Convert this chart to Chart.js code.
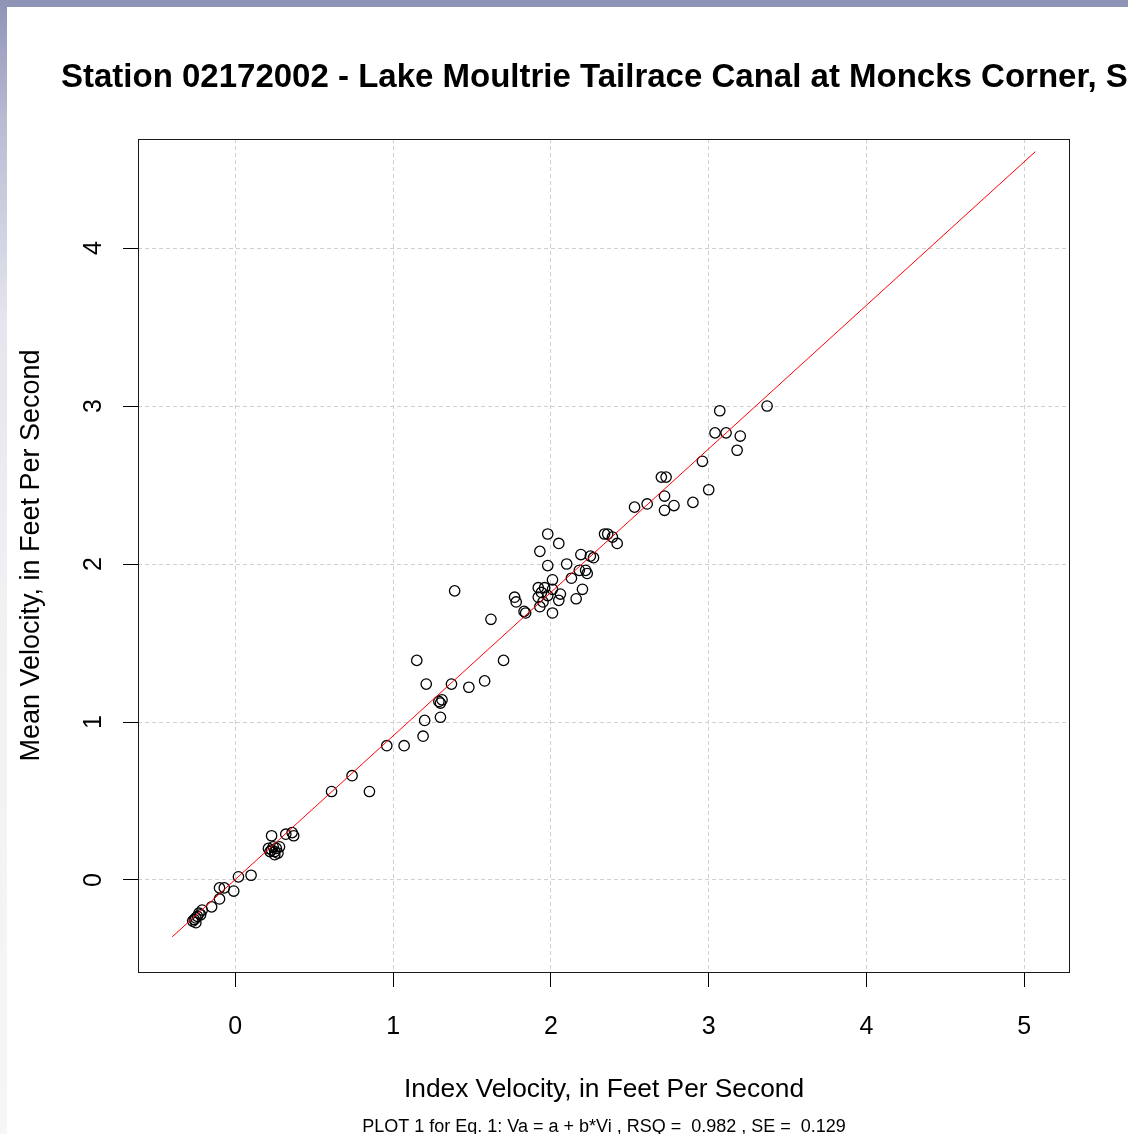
<!DOCTYPE html>
<html>
<head>
<meta charset="utf-8">
<script src="https://cdn.jsdelivr.net/npm/chart.js@4.4.1/dist/chart.umd.min.js"></script>
<style>
  html, body { margin: 0; padding: 0; background: #fff; }
  #wrap { position: relative; width: 1128px; height: 1134px; overflow: hidden; }
  #topbar { position: absolute; left: 0; top: 0; width: 1128px; height: 7px; background: #8f93b6; z-index: 2; }
  #leftbar { position: absolute; left: 0; top: 0; width: 7px; height: 1134px; z-index: 2;
    background: linear-gradient(to bottom, #8f93b6 0px, #b9bbd3 120px, #e4e5ee 320px, #f1f1f4 600px, #f6f6f7 100%); }
  canvas { position: absolute; left: 0; top: 0; }
</style>
</head>
<body>
<div id="wrap">
  <div id="topbar"></div>
  <div id="leftbar"></div>
  <canvas id="chart" width="1128" height="1134"></canvas>
</div>
<script>
// index velocity (x) and mean velocity (y), ft/s
const indexVel = [
  3.37, 3.07, 3.04, 3.11, 3.20, 3.18, 2.96, 3.00, 2.70, 2.73,
  2.72, 2.78, 2.72, 2.90, 2.53, 2.61, 2.34, 2.36, 2.39, 2.42,
  1.98, 2.05, 1.93, 1.98, 2.10, 2.19, 2.25, 2.27, 2.18, 2.22,
  2.23, 2.13, 2.01, 2.20, 2.16, 1.77, 1.78, 1.84, 1.83, 2.01,
  1.92, 1.94, 1.92, 1.96, 2.01, 1.98, 2.06, 2.05, 1.93, 1.95,
  1.62, 1.39, 1.70, 1.15, 1.21, 1.37, 1.48, 1.58, 1.29, 1.30,
  1.31, 1.20, 1.30, 1.19, 1.07, 0.96, 0.74, 0.61, 0.85,
  0.23, 0.32, 0.36, 0.37, 0.21, 0.23, 0.24, 0.25, 0.26, 0.27,
  0.28, 0.25, 0.22, 0.02, 0.10, -0.10, -0.07, -0.01, -0.10, -0.15,
  -0.21, -0.26, -0.24, -0.25, -0.23, -0.27, -0.22, -0.25
];
const meanVel = [
  3.00, 2.97, 2.83, 2.83, 2.81, 2.72, 2.65, 2.47, 2.55, 2.55,
  2.43, 2.37, 2.34, 2.39, 2.36, 2.38, 2.19, 2.19, 2.17, 2.13,
  2.19, 2.13, 2.08, 1.99, 2.00, 2.06, 2.05, 2.04, 1.96, 1.96,
  1.94, 1.91, 1.90, 1.84, 1.78, 1.79, 1.76, 1.69, 1.70, 1.69,
  1.85, 1.82, 1.79, 1.85, 1.84, 1.80, 1.81, 1.77, 1.73, 1.76,
  1.65, 1.83, 1.39, 1.39, 1.24, 1.24, 1.22, 1.26, 1.13, 1.12,
  1.14, 1.01, 1.03, 0.91, 0.85, 0.85, 0.66, 0.56, 0.56,
  0.28, 0.29, 0.30, 0.28, 0.20, 0.19, 0.21, 0.18, 0.20, 0.17,
  0.21, 0.16, 0.18, 0.02, 0.03, -0.05, -0.05, -0.07, -0.12, -0.17,
  -0.19, -0.25, -0.23, -0.27, -0.21, -0.26, -0.22, -0.24
];

// fitted line Va = a + b*Vi, end points
const fitX = [-0.40, 5.07];
const fitY = [-0.36, 4.61];

const xTicks = [0, 1, 2, 3, 4, 5];
const yTicks = [0, 1, 2, 3, 4];

const titleText = "Station 02172002 - Lake Moultrie Tailrace Canal at Moncks Corner, SC";
const noteText = "PLOT 1 for Eq. 1: Va = a + b*Vi , RSQ =  0.982 , SE =  0.129";
const xTitle = "Index Velocity, in Feet Per Second";
const yTitle = "Mean Velocity, in Feet Per Second";

const FONT = '"Liberation Sans", Arial, sans-serif';

const points = indexVel.map((v, i) => ({ x: v, y: meanVel[i] }));
const fitLine = fitX.map((v, i) => ({ x: v, y: fitY[i] }));

const extras = {
  id: "extras",
  afterDraw(chart) {
    const ctx = chart.ctx;
    const a = chart.chartArea;
    ctx.save();
    // plot box
    ctx.strokeStyle = "#1a1a1a";
    ctx.lineWidth = 1;
    ctx.strokeRect(a.left + 0.5, a.top + 0.5, a.right - a.left - 1, a.bottom - a.top);

    // y tick labels, rotated like R
    const ys = chart.scales.y;
    ctx.fillStyle = "#000";
    ctx.font = "25px " + FONT;
    ctx.textAlign = "center";
    ctx.textBaseline = "middle";
    ys.ticks.forEach(t => {
      ctx.save();
      ctx.translate(94, ys.getPixelForValue(t.value));
      ctx.rotate(-Math.PI / 2);
      ctx.fillText(String(t.value), 0, 0);
      ctx.restore();
    });

    // main title (runs off the right edge like the original)
    ctx.font = "bold 33px " + FONT;
    ctx.textAlign = "left";
    ctx.textBaseline = "alphabetic";
    ctx.fillText(titleText, 61, 87);

    // equation note
    ctx.font = "18px " + FONT;
    ctx.textAlign = "center";
    ctx.fillText(noteText, (a.left + a.right) / 2, 1132);
    ctx.restore();
  }
};

const gridOpts = {
  color: "#d0d0d0",
  tickColor: "#000",
  tickBorderDash: [],
  tickLength: 15,
  lineWidth: 1
};

new Chart(document.getElementById("chart"), {
  type: "scatter",
  data: {
    datasets: [
      {
        label: "fit",
        data: fitLine,
        showLine: true,
        borderColor: "#ff0000",
        borderWidth: 1,
        pointRadius: 0,
        fill: false
      },
      {
        label: "measurements",
        data: points,
        pointStyle: "circle",
        pointRadius: 5.2,
        pointBorderWidth: 1.3,
        borderColor: "#000",
        backgroundColor: "rgba(0,0,0,0)"
      }
    ]
  },
  options: {
    responsive: false,
    animation: false,
    devicePixelRatio: 1,
    layout: { padding: { left: 0, top: 139, right: 58, bottom: 22 } },
    plugins: {
      legend: { display: false },
      title: { display: false },
      tooltip: { enabled: false }
    },
    scales: {
      x: {
        type: "linear",
        min: -0.6166,
        max: 5.2896,
        afterBuildTicks: s => { s.ticks = xTicks.map(v => ({ value: v })); },
        afterFit: s => { s.height = 140; },
        border: { display: false, dash: [4, 3] },
        grid: gridOpts,
        ticks: {
          color: "#000",
          font: { family: FONT, size: 25 },
          padding: 25,
          maxRotation: 0
        },
        title: {
          display: true,
          text: xTitle,
          color: "#000",
          font: { family: FONT, size: 26.3, lineHeight: 1.2 },
          padding: { top: 0, bottom: 6 }
        }
      },
      y: {
        type: "linear",
        min: -0.5823,
        max: 4.690,
        afterBuildTicks: s => { s.ticks = yTicks.map(v => ({ value: v })); },
        afterFit: s => { s.width = 138; },
        border: { display: false, dash: [4, 3] },
        grid: gridOpts,
        ticks: { display: false },
        title: {
          display: true,
          text: yTitle,
          color: "#000",
          font: { family: FONT, size: 27, lineHeight: 1.2 },
          padding: { top: 15, bottom: 0 }
        }
      }
    }
  },
  plugins: [extras]
});
</script>
</body>
</html>
